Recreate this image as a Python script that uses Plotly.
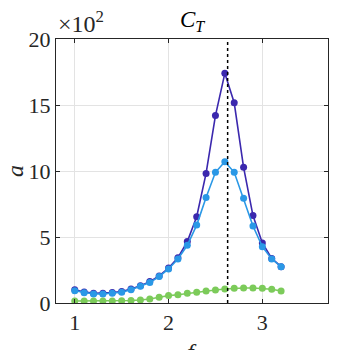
"""
C_T amplitude vs frequency, three series, with resonance marker.
"""

import plotly.graph_objects as go

freq = [1.0, 1.1, 1.2, 1.3, 1.4, 1.5, 1.6, 1.7, 1.8, 1.9, 2.0, 2.1,
        2.2, 2.3, 2.4, 2.5, 2.6, 2.7, 2.8, 2.9, 3.0, 3.1, 3.2]

# amplitudes in units of 1e2
amp_dark = [1.00, 0.84, 0.74, 0.74, 0.79, 0.87, 1.06, 1.31, 1.62, 2.05, 2.65, 3.43,
            4.65, 6.54, 9.82, 14.2, 17.4, 15.17, 10.28, 6.62, 4.55, 3.38, 2.75]
amp_blue = [0.93, 0.78, 0.68, 0.68, 0.73, 0.81, 1.01, 1.26, 1.56, 2.00, 2.58, 3.33,
            4.37, 5.90, 8.00, 9.90, 10.7, 9.90, 7.93, 5.83, 4.27, 3.33, 2.75]
amp_green = [0.15, 0.15, 0.15, 0.15, 0.16, 0.17, 0.19, 0.23, 0.30, 0.43, 0.56, 0.63,
             0.73, 0.81, 0.91, 0.99, 1.06, 1.11, 1.14, 1.14, 1.11, 1.04, 0.91]

f_res = 2.63

x_ticks = [1, 2, 3]
y_ticks = [0, 5, 10, 15, 20]

FONT = "'Liberation Serif', 'Times New Roman', serif"

fig = go.Figure()
for ys, col in [(amp_dark, "#3B28AE"), (amp_blue, "#2A98E6"), (amp_green, "#7CCB5A")]:
    fig.add_trace(go.Scatter(
        x=freq, y=ys, mode="lines+markers",
        line=dict(color=col, width=1.6),
        marker=dict(color=col, size=7),
        showlegend=False,
    ))

fig.add_shape(type="line", x0=f_res, x1=f_res, y0=0, y1=1, xref="x", yref="paper",
              line=dict(color="black", width=1.5, dash="dot"))

axis = dict(showgrid=True, gridcolor="#E3E3E3", gridwidth=1, zeroline=False,
            showline=True, linecolor="#262626", linewidth=1, mirror="ticks",
            ticks="inside", ticklen=4, tickcolor="#262626", automargin=False,
            tickfont=dict(family=FONT, size=22, color="#262626"))

fig.update_xaxes(range=[0.8, 3.7], tickvals=x_ticks, **axis)
fig.update_yaxes(range=[0, 20], tickvals=y_ticks, **axis)

fig.add_annotation(text="<i>C</i><sub><i>T</i></sub>", x=0.5, y=1.0, xref="paper", yref="paper",
                   xanchor="center", yanchor="bottom", yshift=2, showarrow=False,
                   font=dict(family=FONT, size=23, color="#000000"))
fig.add_annotation(text="\u00d710<sup>2</sup>", x=0.0, y=1.0, xref="paper", yref="paper",
                   xanchor="left", yanchor="bottom", xshift=0, yshift=0, showarrow=False,
                   font=dict(family=FONT, size=24, color="#262626"))
fig.add_annotation(text="<i>a</i>", x=0, y=0.5, xref="paper", yref="paper",
                   xanchor="center", xshift=-41, textangle=-90, showarrow=False,
                   font=dict(family=FONT, size=24, color="#262626"))
fig.add_annotation(text="<i>f</i>", x=0.5, y=0, xref="paper", yref="paper",
                   yanchor="top", yshift=-34, showarrow=False,
                   font=dict(family=FONT, size=24, color="#262626"))

fig.update_layout(
    width=363, height=350,
    font=dict(family=FONT),
    margin=dict(l=48, r=43, t=31, b=55),
    paper_bgcolor="white", plot_bgcolor="white",
)

fig.write_html("out.html")
